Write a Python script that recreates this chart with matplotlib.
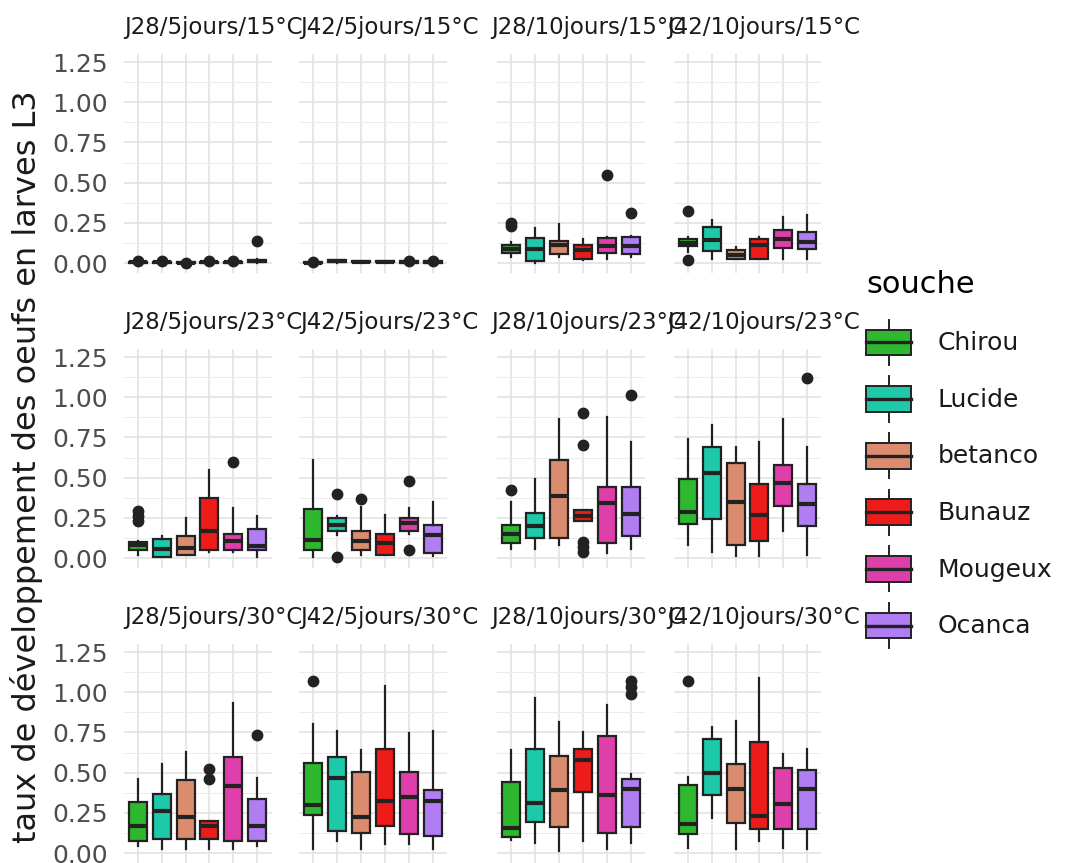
import matplotlib
matplotlib.use("Agg")
import matplotlib.pyplot as plt
from matplotlib.legend_handler import HandlerBase
from matplotlib.patches import Rectangle, Patch
from matplotlib.lines import Line2D

souches = ["Chirou", "Lucide", "betanco", "Bunauz", "Mougeux", "Ocanca"]
couleurs = ["#2EB82E", "#1DC9A8", "#DB8B6E", "#EE1B1B", "#DE3FAA", "#B07DF2"]

titres = ["J28/5jours/15°C", "J42/5jours/15°C", "J28/10jours/15°C", "J42/10jours/15°C",
          "J28/5jours/23°C", "J42/5jours/23°C", "J28/10jours/23°C", "J42/10jours/23°C",
          "J28/5jours/30°C", "J42/5jours/30°C", "J28/10jours/30°C", "J42/10jours/30°C"]

yticks = [0, 0.25, 0.5, 0.75, 1.0, 1.25]

# (bas moustache, q1, mediane, q3, haut moustache) par souche
j28_5_15 = [(0, 0, 0.004, 0.008, 0.012), (0, 0, 0.004, 0.008, 0.012), (0, 0, 0.002, 0.005, 0.008),
            (0, 0, 0.004, 0.008, 0.015), (0, 0, 0.004, 0.008, 0.015), (0, 0.005, 0.012, 0.02, 0.025)]
j42_5_15 = [(0, 0, 0.003, 0.006, 0.01), (0, 0.006, 0.01, 0.016, 0.02), (0, 0.004, 0.008, 0.012, 0.015),
            (0, 0.004, 0.008, 0.012, 0.015), (0, 0, 0.005, 0.01, 0.015), (0, 0, 0.005, 0.01, 0.015)]
j28_10_15 = [(0.04, 0.06, 0.085, 0.11, 0.13), (0.0, 0.01, 0.087, 0.156, 0.22), (0.04, 0.056, 0.11, 0.139, 0.24),
             (0.02, 0.025, 0.083, 0.114, 0.15), (0.027, 0.062, 0.104, 0.156, 0.16), (0.04, 0.056, 0.108, 0.16, 0.17)]
j42_10_15 = [(0.07, 0.103, 0.124, 0.149, 0.16), (0.025, 0.072, 0.145, 0.221, 0.27), (0.025, 0.025, 0.05, 0.079, 0.10),
             (0.025, 0.025, 0.11, 0.149, 0.16), (0.025, 0.093, 0.149, 0.207, 0.285), (0.025, 0.087, 0.13, 0.19, 0.30)]

j28_5_23 = [(0.02, 0.052, 0.079, 0.10, 0.108), (0.004, 0.004, 0.058, 0.121, 0.135), (0.02, 0.02, 0.062, 0.14, 0.246),
            (0.04, 0.052, 0.167, 0.371, 0.546), (0.04, 0.052, 0.108, 0.152, 0.31), (0.004, 0.052, 0.077, 0.183, 0.26)]
j42_5_23 = [(0.004, 0.052, 0.115, 0.308, 0.608), (0.146, 0.167, 0.204, 0.246, 0.26), (0.02, 0.052, 0.108, 0.171, 0.32),
            (0.02, 0.02, 0.094, 0.152, 0.267), (0.15, 0.167, 0.219, 0.246, 0.31), (0.01, 0.031, 0.146, 0.204, 0.35)]
j28_10_23 = [(0.058, 0.095, 0.147, 0.207, 0.35), (0.058, 0.124, 0.197, 0.282, 0.494), (0.079, 0.124, 0.384, 0.612, 0.867),
             (0.23, 0.23, 0.263, 0.297, 0.297), (0.03, 0.095, 0.342, 0.442, 0.88), (0.054, 0.137, 0.276, 0.442, 0.72)]
j42_10_23 = [(0.083, 0.2125, 0.2875, 0.494, 0.74), (0.0375, 0.24, 0.53, 0.6875, 0.83), (0.01, 0.083, 0.348, 0.59, 0.6875),
             (0.01, 0.104, 0.27, 0.4625, 0.72), (0.167, 0.323, 0.469, 0.577, 0.865), (0.02, 0.198, 0.333, 0.4625, 0.69)]

j28_5_30 = [(0.042, 0.077, 0.167, 0.317, 0.458), (0.027, 0.09, 0.26, 0.365, 0.556), (0.027, 0.09, 0.227, 0.454, 0.63),
            (0.027, 0.09, 0.167, 0.202, 0.202), (0.027, 0.077, 0.417, 0.6, 0.93), (0.042, 0.077, 0.167, 0.333, 0.469)]
j42_5_30 = [(0.027, 0.235, 0.298, 0.5625, 0.80), (0.073, 0.14, 0.465, 0.6, 0.756), (0.027, 0.125, 0.225, 0.504, 0.64),
            (0.056, 0.167, 0.323, 0.646, 1.04), (0.056, 0.121, 0.35, 0.504, 0.744), (0.027, 0.104, 0.323, 0.392, 0.756)]
j28_10_30 = [(0.08, 0.098, 0.156, 0.442, 0.64), (0.0625, 0.19, 0.3125, 0.65, 0.9625), (0.015, 0.1625, 0.39, 0.604, 0.8125),
             (0.073, 0.379, 0.58, 0.65, 0.75), (0.025, 0.125, 0.358, 0.725, 0.92), (0.0625, 0.1625, 0.396, 0.4625, 0.49)]
j42_10_30 = [(0.031, 0.119, 0.183, 0.423, 0.473), (0.215, 0.36, 0.496, 0.708, 0.785), (0.027, 0.1875, 0.396, 0.552, 0.823),
             (0.077, 0.152, 0.229, 0.6875, 1.09), (0.031, 0.152, 0.308, 0.53, 0.615), (0.027, 0.152, 0.396, 0.517, 0.646)]

# valeurs aberrantes par souche
out_j28_5_15 = [[0.01], [0.01], [0.003], [0.012], [0.012], [0.14]]
out_j42_5_15 = [[0.005], [], [], [], [0.01], [0.01]]
out_j28_10_15 = [[0.23, 0.25], [], [], [], [0.546], [0.31]]
out_j42_10_15 = [[0.017, 0.326], [], [], [], [], []]
out_j28_5_23 = [[0.23, 0.26, 0.29], [], [], [], [0.60], []]
out_j42_5_23 = [[], [0.004, 0.40], [0.37], [], [0.052, 0.48], []]
out_j28_10_23 = [[0.42], [], [], [0.04, 0.07, 0.10, 0.70, 0.90], [], [1.017]]
out_j42_10_23 = [[], [], [], [], [], [1.12]]
out_j28_5_30 = [[], [], [], [0.46, 0.52], [], [0.735]]
out_j42_5_30 = [[1.07], [], [], [], [], []]
out_j28_10_30 = [[], [], [], [], [], [0.99, 1.03, 1.07]]
out_j42_10_30 = [[1.07], [], [], [], [], []]

panels = [j28_5_15, j42_5_15, j28_10_15, j42_10_15,
          j28_5_23, j42_5_23, j28_10_23, j42_10_23,
          j28_5_30, j42_5_30, j28_10_30, j42_10_30]
outliers = [out_j28_5_15, out_j42_5_15, out_j28_10_15, out_j42_10_15,
            out_j28_5_23, out_j42_5_23, out_j28_10_23, out_j42_10_23,
            out_j28_5_30, out_j42_5_30, out_j28_10_30, out_j42_10_30]

W, H = 1071, 863
fig = plt.figure(figsize=(W / 100, H / 100), dpi=100)

lefts = [123.5, 299, 497, 673.5]
tops = [54, 349, 644]
pw, ph = 148, 219
edge = "#222222"


def stats_list(box, outl):
    res = []
    for (lo, q1, med, q3, hi), fl in zip(box, outl):
        res.append({"whislo": lo, "q1": q1, "med": med, "q3": q3, "whishi": hi, "fliers": fl})
    return res


for i in range(12):
    r, c = divmod(i, 4)
    ax = fig.add_axes([lefts[c] / W, 1 - (tops[r] + ph) / H, pw / W, ph / H])
    ax.set_axisbelow(True)
    bp = ax.bxp(stats_list(panels[i], outliers[i]), positions=range(1, 7), widths=0.75,
                patch_artist=True, showcaps=False,
                boxprops=dict(edgecolor=edge, linewidth=1.6),
                medianprops=dict(color=edge, linewidth=3),
                whiskerprops=dict(color=edge, linewidth=1.6),
                flierprops=dict(marker="o", markerfacecolor=edge, markeredgecolor=edge, markersize=7.5))
    for patch, col in zip(bp["boxes"], couleurs):
        patch.set_facecolor(col)
    ax.set_xlim(0.4, 6.6)
    ax.set_ylim(-0.062, 1.30)
    ax.set_xticks(range(1, 7))
    ax.set_xticklabels([])
    ax.set_yticks(yticks)
    ax.set_yticks([0.125, 0.375, 0.625, 0.875, 1.125], minor=True)
    ax.set_xticks([], minor=True)
    ax.grid(True, which="major", color="#E0E0E0", linewidth=1.1)
    ax.grid(True, which="minor", axis="y", color="#ECECEC", linewidth=0.7)
    ax.tick_params(which="both", length=0, pad=11, labelsize=18, labelcolor="#4D4D4D")
    if c == 0:
        ax.set_yticklabels(["%.2f" % v for v in yticks])
    else:
        ax.set_yticklabels([])
    for s in ax.spines.values():
        s.set_visible(False)
    ax.set_title(titres[i], fontsize=16.5, color="#1A1A1A", x=0.61, pad=14.5)

fig.text(27 / W, 1 - 467 / H, "taux de développement des oeufs en larves L3",
         rotation=90, fontsize=23, va="center", ha="center", color="#1A1A1A")


class BoiteLegende(HandlerBase):
    def create_artists(self, legend, orig_handle, xdescent, ydescent, width, height, fontsize, trans):
        fc = orig_handle.get_facecolor()
        x0, y0 = -xdescent, -ydescent
        bh = height * 0.57
        yb = y0 + (height - bh) / 2
        xm = x0 + width / 2
        w1 = Line2D([xm, xm], [y0, yb], color=edge, lw=1.4, transform=trans)
        w2 = Line2D([xm, xm], [yb + bh, y0 + height], color=edge, lw=1.4, transform=trans)
        rect = Rectangle((x0, yb), width, bh, facecolor=fc, edgecolor=edge, lw=1.4, transform=trans)
        med = Line2D([x0, x0 + width], [y0 + height / 2] * 2, color=edge, lw=2.4, transform=trans)
        return [w1, w2, rect, med]


handles = [Patch(facecolor=col, label=s) for s, col in zip(souches, couleurs)]
leg = fig.legend(handles=handles, handler_map={Patch: BoiteLegende()}, loc="upper left",
                 bbox_to_anchor=(866 / W, 1 - 270 / H), frameon=False, fontsize=18,
                 title="souche", title_fontsize=22, handlelength=1.8, handleheight=2.4,
                 labelspacing=0.46, handletextpad=1.05, alignment="left",
                 borderpad=0, borderaxespad=0, labelcolor="#1A1A1A")
# un peu plus d'espace entre le titre et les entrees
leg._legend_box.sep = 15

fig.savefig("out.png", dpi=100, facecolor="white")
